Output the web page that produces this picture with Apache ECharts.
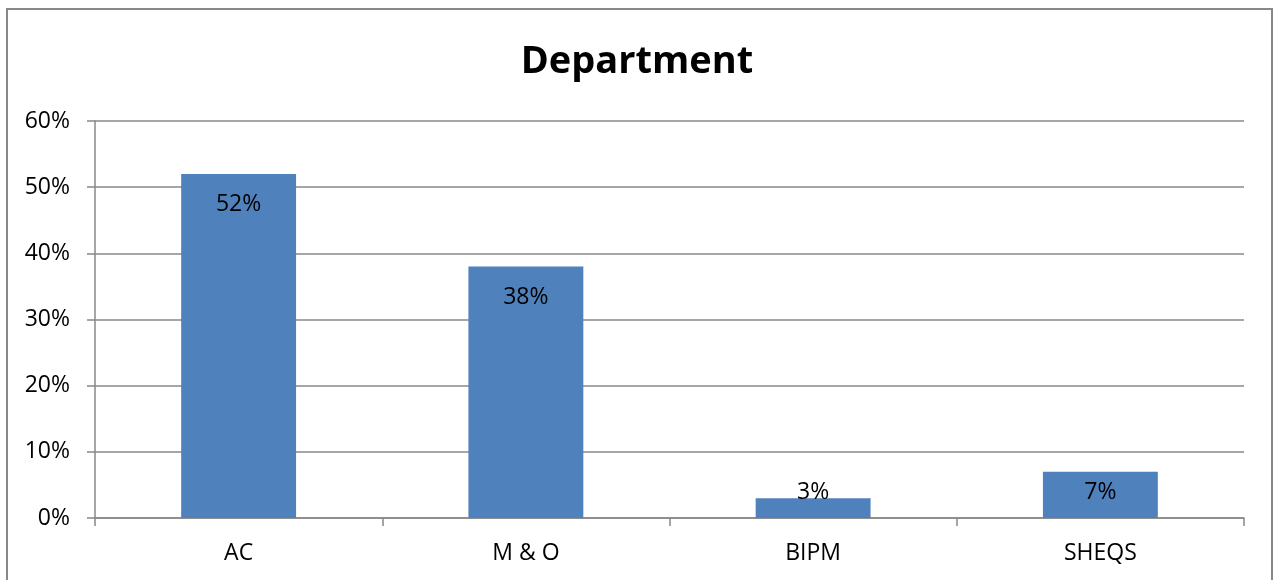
<!DOCTYPE html>
<html>
<head>
<meta charset="utf-8">
<title>Department</title>
<script src="https://cdn.jsdelivr.net/npm/echarts@6/dist/echarts.min.js"></script>
<style>
  html, body { margin: 0; padding: 0; background: #ffffff; }
  #chart { width: 1274px; height: 580px; }
</style>
</head>
<body>
<div id="chart"></div>
<script>
// Share of responses by department (percent)
const categories = ['AC', 'M & O', 'BIPM', 'SHEQS'];
const shares = [52, 38, 3, 7];
const yTicks = { min: 0, max: 60, interval: 10 };

const FONT = '"Open Sans", "Liberation Sans", sans-serif';
const GREY = '#888888';

// Short bars carry their label near the base, tall ones just under the top.
const barData = shares.map(v => ({
  value: v,
  label: v < 10
    ? { position: 'insideBottom', distance: 14 }
    : { position: 'insideTop', distance: 19 }
}));

const chart = echarts.init(document.getElementById('chart'), null, { renderer: 'canvas' });
chart.setOption({
  backgroundColor: '#ffffff',
  animation: false,
  title: {
    text: 'Department',
    left: 'center',
    top: 38,
    textStyle: { fontFamily: FONT, fontWeight: 'bold', fontSize: 38, color: '#000000' }
  },
  graphic: [{
    type: 'rect',
    shape: { x: 7, y: 9, width: 1265, height: 620 },
    style: { fill: 'none', stroke: GREY, lineWidth: 2 },
    silent: true
  }],
  grid: { left: 95, right: 30, top: 121, bottom: 62 },
  xAxis: {
    type: 'category',
    data: categories,
    axisLine: { show: true, lineStyle: { color: GREY, width: 1.5 } },
    axisTick: { show: true, alignWithLabel: false, length: 8, lineStyle: { color: GREY, width: 1.5 } },
    axisLabel: { fontFamily: FONT, fontSize: 23, color: '#000000', margin: 24 },
    splitLine: { show: false }
  },
  yAxis: {
    type: 'value',
    min: yTicks.min,
    max: yTicks.max,
    interval: yTicks.interval,
    axisLine: { show: true, lineStyle: { color: GREY, width: 1.5 } },
    axisTick: { show: true, length: 8, lineStyle: { color: GREY, width: 1.5 } },
    axisLabel: { fontFamily: FONT, fontSize: 23, color: '#000000', margin: 25, formatter: '{value}%' },
    splitLine: { show: true, lineStyle: { color: GREY, width: 1.5 } }
  },
  series: [{
    type: 'bar',
    data: barData,
    barCategoryGap: '60%',
    itemStyle: { color: '#4F81BD' },
    label: {
      show: true,
      formatter: '{c}%',
      fontFamily: FONT,
      fontSize: 23,
      color: '#000000'
    }
  }]
});
</script>
</body>
</html>
